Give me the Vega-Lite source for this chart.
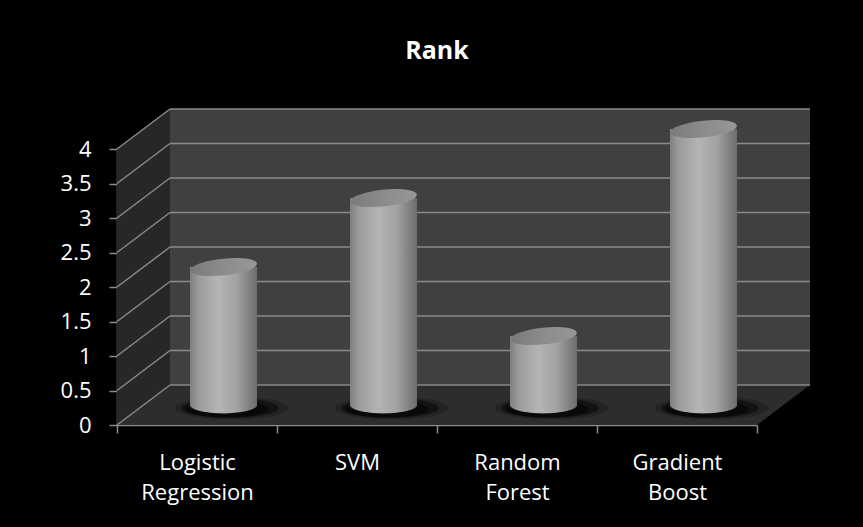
{
  "$schema": "https://vega.github.io/schema/vega-lite/v6.json",
  "width": 640,
  "height": 276,
  "autosize": "none",
  "padding": {"left": 117, "top": 149, "right": 106, "bottom": 102},
  "background": "#000000",
  "title": {"text": "Rank", "font": "Open Sans", "fontSize": 25, "fontWeight": "bold", "color": "#ffffff", "offset": 44, "anchor": "middle"},
  "config": {
    "view": {"stroke": null},
    "axis": {"labelFont": "Open Sans", "labelColor": "#ffffff", "domainColor": "#8c8c8c", "tickColor": "#8c8c8c", "domainWidth": 1.5, "tickWidth": 1.5, "tickSize": 8, "grid": false},
    "axisY": {"tickCount": 8, "labelFontSize": 22, "labelPadding": 18, "format": "~g"}
  },
  "datasets": {
    "ranks": [
      {"model": "Logistic Regression", "rank": 2},
      {"model": "SVM", "rank": 3},
      {"model": "Random Forest", "rank": 1},
      {"model": "Gradient Boost", "rank": 4}
    ],
    "levels": [
      {"level": 0}, {"level": 0.5}, {"level": 1}, {"level": 1.5}, {"level": 2},
      {"level": 2.5}, {"level": 3}, {"level": 3.5}, {"level": 4}
    ],
    "sidewall": [
      {"x": 0, "lo": 0, "hi": 4},
      {"x": 0.33125, "lo": 0.5797, "hi": 4.5797}
    ],
    "floor": [
      {"x": 0, "lo": 0, "hi": 0},
      {"x": 0.33125, "lo": 0, "hi": 0.5797},
      {"x": 4, "lo": 0, "hi": 0.5797},
      {"x": 4.33125, "lo": 0.5797, "hi": 0.5797}
    ]
  },
  "resolve": {"scale": {"x": "independent"}},
  "layer": [
    {
      "layer": [
        {
          "data": {"values": [{"wall": "back"}]},
          "mark": {"type": "rect", "fill": "#404040", "xOffset": 53, "x2Offset": 53, "yOffset": -40, "y2Offset": -40},
          "encoding": {
            "x": {"datum": 0, "type": "quantitative", "scale": {"domain": [0, 4]}, "axis": null, "title": null},
            "x2": {"datum": 4},
            "y": {"datum": 0, "type": "quantitative", "scale": {"domain": [0, 4]}, "title": null},
            "y2": {"datum": 4}
          }
        },
        {
          "data": {"name": "sidewall"},
          "mark": {"type": "area", "fill": "#272727", "orient": "vertical"},
          "encoding": {
            "x": {"field": "x", "type": "quantitative", "axis": null, "title": null},
            "y": {"field": "lo", "type": "quantitative", "title": null},
            "y2": {"field": "hi"}
          }
        },
        {
          "data": {"name": "floor"},
          "mark": {"type": "area", "fill": "#2d2d2d", "orient": "vertical"},
          "encoding": {
            "x": {"field": "x", "type": "quantitative", "axis": null, "title": null},
            "y": {"field": "lo", "type": "quantitative", "title": null},
            "y2": {"field": "hi"}
          }
        },
        {
          "data": {"name": "levels"},
          "mark": {"type": "rule", "color": "#8a8a8a", "strokeWidth": 1.5, "xOffset": 53, "x2Offset": 53, "yOffset": -40, "y2Offset": -40},
          "encoding": {
            "x": {"datum": 0, "type": "quantitative", "axis": null, "title": null},
            "x2": {"datum": 4},
            "y": {"field": "level", "type": "quantitative", "title": null},
            "y2": {"field": "level"}
          }
        },
        {
          "data": {"name": "levels"},
          "mark": {"type": "rule", "color": "#8a8a8a", "strokeWidth": 1.5, "x2Offset": 53, "y2Offset": -40},
          "encoding": {
            "x": {"datum": 0, "type": "quantitative", "axis": null, "title": null},
            "x2": {"datum": 0},
            "y": {"field": "level", "type": "quantitative", "title": null},
            "y2": {"field": "level"}
          }
        }
      ]
    },
    {
      "data": {"name": "ranks"},
      "encoding": {
        "x": {
          "field": "model", "type": "nominal", "sort": null, "title": null,
          "scale": {"paddingInner": 0, "paddingOuter": 0},
          "axis": {"labelAngle": 0, "tickBand": "extent", "labelExpr": "split(datum.label, ' ')", "labelLineHeight": 30, "labelFontSize": 22, "labelPadding": 19, "labelBaseline": "top"}
        }
      },
      "layer": [
        {
          "mark": {"type": "point", "shape": "M-1,0A1,0.2,0,1,0,1,0A1,0.2,0,1,0,-1,0Z", "size": 13000, "filled": true, "fill": "#000000", "opacity": 0.22, "strokeWidth": 0, "xOffset": 35, "yOffset": -17},
          "encoding": {"y": {"datum": 0, "type": "quantitative", "title": null}}
        },
        {
          "mark": {"type": "point", "shape": "M-1,0A1,0.2,0,1,0,1,0A1,0.2,0,1,0,-1,0Z", "size": 9600, "filled": true, "fill": "#000000", "opacity": 0.45, "strokeWidth": 0, "xOffset": 33, "yOffset": -17},
          "encoding": {"y": {"datum": 0, "type": "quantitative", "title": null}}
        },
        {
          "mark": {"type": "point", "shape": "M-1,0A1,0.2,0,1,0,1,0A1,0.2,0,1,0,-1,0Z", "size": 7000, "filled": true, "fill": "#000000", "opacity": 0.5, "strokeWidth": 0, "xOffset": 30, "yOffset": -16},
          "encoding": {"y": {"datum": 0, "type": "quantitative", "title": null}}
        },
        {
          "mark": {
            "type": "point", "shape": "M-1,0A1,0.25,0,1,0,1,0A1,0.25,0,1,0,-1,0Z", "size": 4489, "filled": true, "strokeWidth": 0, "opacity": 1,
            "xOffset": 26.5, "yOffset": -20,
            "fill": {"gradient": "linear", "x1": 0, "x2": 1, "y1": 0, "y2": 0, "stops": [
              {"offset": 0, "color": "#7f7f7f"}, {"offset": 0.12, "color": "#9a9a9a"}, {"offset": 0.42, "color": "#b4b4b4"},
              {"offset": 0.7, "color": "#a2a2a2"}, {"offset": 0.9, "color": "#7e7e7e"}, {"offset": 1, "color": "#6d6d6d"}]}
          },
          "encoding": {"y": {"datum": 0, "type": "quantitative", "title": null}}
        },
        {
          "mark": {
            "type": "bar", "width": 67, "xOffset": 26.5, "x2Offset": 26.5, "yOffset": -20, "y2Offset": -20,
            "fill": {"gradient": "linear", "x1": 0, "x2": 1, "y1": 0, "y2": 0, "stops": [
              {"offset": 0, "color": "#7f7f7f"}, {"offset": 0.12, "color": "#9a9a9a"}, {"offset": 0.42, "color": "#b4b4b4"},
              {"offset": 0.7, "color": "#a2a2a2"}, {"offset": 0.9, "color": "#7e7e7e"}, {"offset": 1, "color": "#6d6d6d"}]}
          },
          "encoding": {"y": {"field": "rank", "type": "quantitative", "title": null}}
        },
        {
          "mark": {
            "type": "point", "shape": "M-1,0A1,0.25,0,1,0,1,0A1,0.25,0,1,0,-1,0Z", "size": 4489, "filled": true, "strokeWidth": 0, "opacity": 1, "angle": -6,
            "xOffset": 26.5, "yOffset": -20,
            "fill": {"gradient": "linear", "x1": 0, "x2": 1, "y1": 0, "y2": 0, "stops": [
              {"offset": 0, "color": "#7a7a7a"}, {"offset": 0.5, "color": "#8c8c8c"}, {"offset": 1, "color": "#979797"}]}
          },
          "encoding": {"y": {"field": "rank", "type": "quantitative", "title": null}}
        }
      ]
    }
  ]
}
